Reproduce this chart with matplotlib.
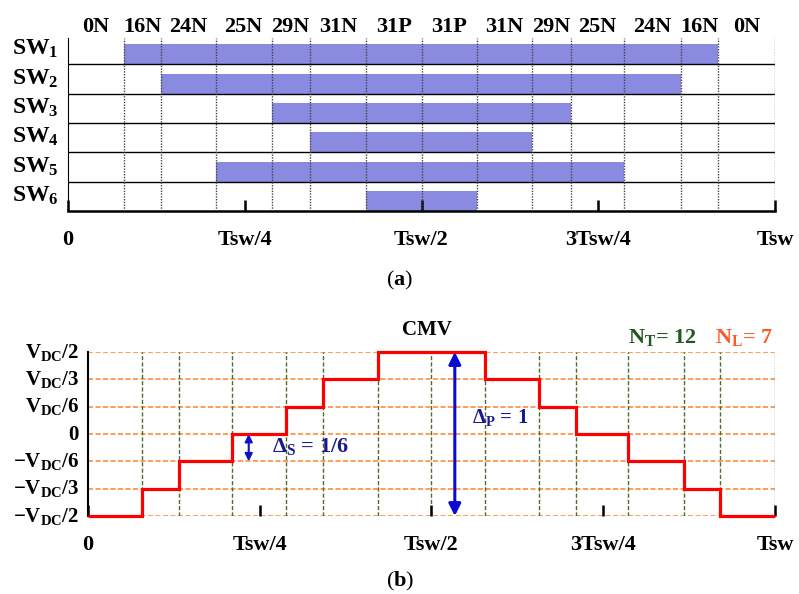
import numpy as np
import matplotlib.pyplot as plt

plt.rcParams['font.family'] = 'Liberation Serif'
plt.rcParams['font.weight'] = 'bold'
plt.rcParams['mathtext.fontset'] = 'custom'
plt.rcParams['mathtext.rm'] = 'Liberation Serif:bold'
plt.rcParams['mathtext.it'] = 'Liberation Serif:bold'
plt.rcParams['mathtext.bf'] = 'Liberation Serif:bold'

# switching instants over one period, as a fraction of Tsw
edges = [0, 0.079, 0.132, 0.209, 0.288, 0.342, 0.422, 0.5,
         0.578, 0.656, 0.711, 0.786, 0.867, 0.920, 1.0]
states = ['0N', '16N', '24N', '25N', '29N', '31N', '31P',
          '31P', '31N', '29N', '25N', '24N', '16N', '0N']

switches = ['SW$_1$', 'SW$_2$', 'SW$_3$', 'SW$_4$', 'SW$_5$', 'SW$_6$']
sw_on = [0.079, 0.132, 0.288, 0.342, 0.209, 0.422]
sw_off = [0.920, 0.867, 0.711, 0.656, 0.786, 0.578]

# common mode voltage per state, in units of Vdc
cmv = [-1/2, -1/3, -1/6, 0, 1/6, 1/3, 1/2,
       1/2, 1/3, 1/6, 0, -1/6, -1/3, -1/2]
levels = [1/2, 1/3, 1/6, 0, -1/6, -1/3, -1/2]
level_labels = ['V$_\\mathrm{DC}$/2', 'V$_\\mathrm{DC}$/3', 'V$_\\mathrm{DC}$/6', '0',
                '\u2212V$_\\mathrm{DC}$/6', '\u2212V$_\\mathrm{DC}$/3', '\u2212V$_\\mathrm{DC}$/2']

tick_pos = [0, 0.25, 0.5, 0.75, 1]
tick_labels = ['0', 'Tsw/4', 'Tsw/2', '3Tsw/4', 'Tsw']

fig = plt.figure(figsize=(7.99, 5.94), dpi=100)

# ---- (a) switching pattern ----
ax = fig.add_axes([0.0851, 0.6448, 0.8849, 0.2963])
ax.set_xlim(0, 1)
ax.set_ylim(0, 6)
for i in range(6):
    ax.barh(5 - i, sw_off[i] - sw_on[i], left=sw_on[i], height=0.68,
            align='edge', color='#8a8ae0', zorder=1)
    ax.text(-0.079, 5.32 - i, switches[i], fontsize=17, ha='left', va='baseline')
ax.hlines([1, 2, 3, 4, 5], 0, 1.002, colors='black', lw=1, zorder=2)
ax.vlines(edges[1:], 0, 5.9, colors='#444444', linestyles=(0, (1, 1)), lw=1, zorder=3)
for k, s in enumerate(states):
    ax.text((edges[k] + edges[k + 1]) / 2, 6.1, s, fontsize=16,
            ha='center', va='baseline')
for side in ['top', 'right']:
    ax.spines[side].set_visible(False)
ax.spines['left'].set_bounds(0, 5.9)
ax.spines['bottom'].set_linewidth(1.8)
ax.set_yticks([])
ax.set_xticks(tick_pos, tick_labels, fontsize=16)
ax.tick_params(axis='x', direction='in', length=8, width=1.8, pad=14)

fig.text(400 / 799, 1 - 280 / 594, '($\\mathbf{a}$)', fontsize=16,
         fontweight='normal', ha='center', va='center')

# ---- (b) common mode voltage ----
ax2 = fig.add_axes([0.1101, 0.1313, 0.8598, 0.2761])
ax2.set_xlim(0, 1)
ax2.set_ylim(-0.5, 0.5)
ax2.hlines(levels, 0, 1, colors='#ff8c3c', linestyles=(0, (3, 1.5)), lw=1.2, zorder=1)
ax2.vlines(edges[1:-1], -0.5, 0.5, colors='#4f6b2f', linestyles=(0, (3, 1.5)), lw=1, zorder=1)
ax2.vlines(1, -0.5, 0.5, colors='#555555', linestyles=(0, (1, 1)), lw=1, zorder=1)
ax2.stairs(cmv, edges, baseline=None, color='red', lw=2.3, zorder=3, clip_on=False)

for y, lab in zip(levels, level_labels):
    ax2.text(-0.013, y - 0.035, lab, fontsize=15, ha='right', va='baseline')

ax2.annotate('', xy=(0.234, -1/6), xytext=(0.234, 0),
             arrowprops=dict(arrowstyle='<|-|>', color='#1010c8', lw=1.5,
                             mutation_scale=11, shrinkA=0, shrinkB=0))
ax2.text(0.268, -0.11, '\u0394$_\\mathrm{S}$ = 1/6', fontsize=16, color='#1a1a8c',
         ha='left', va='baseline')
ax2.annotate('', xy=(0.534, -0.5), xytext=(0.534, 0.5),
             arrowprops=dict(arrowstyle='<|-|>', color='#0a0ad0', lw=2.2,
                             mutation_scale=18, shrinkA=0, shrinkB=0))
ax2.text(0.559, 0.067, '\u0394$_\\mathrm{P}$ = 1', fontsize=15, color='#1a1a8c',
         ha='left', va='baseline')

ax2.text(0.493, 0.604, 'CMV', fontsize=15, ha='center', va='baseline')
ax2.text(0.786, 0.555, 'N$_\\mathrm{T}$= 12', fontsize=16, color='#1e5a1e',
         ha='left', va='baseline')
ax2.text(0.913, 0.555, 'N$_\\mathrm{L}$= 7', fontsize=16, color='#ff5a28',
         ha='left', va='baseline')

for side in ['top', 'right', 'bottom']:
    ax2.spines[side].set_visible(False)
ax2.spines['left'].set_linewidth(1.5)
ax2.set_yticks([])
ax2.set_xticks(tick_pos, tick_labels, fontsize=16)
ax2.tick_params(axis='x', direction='in', length=8, width=1.8, pad=14)

fig.text(400 / 799, 1 - 581 / 594, '($\\mathbf{b}$)', fontsize=16,
         fontweight='normal', ha='center', va='center')

fig.savefig('out.png', dpi=100)
